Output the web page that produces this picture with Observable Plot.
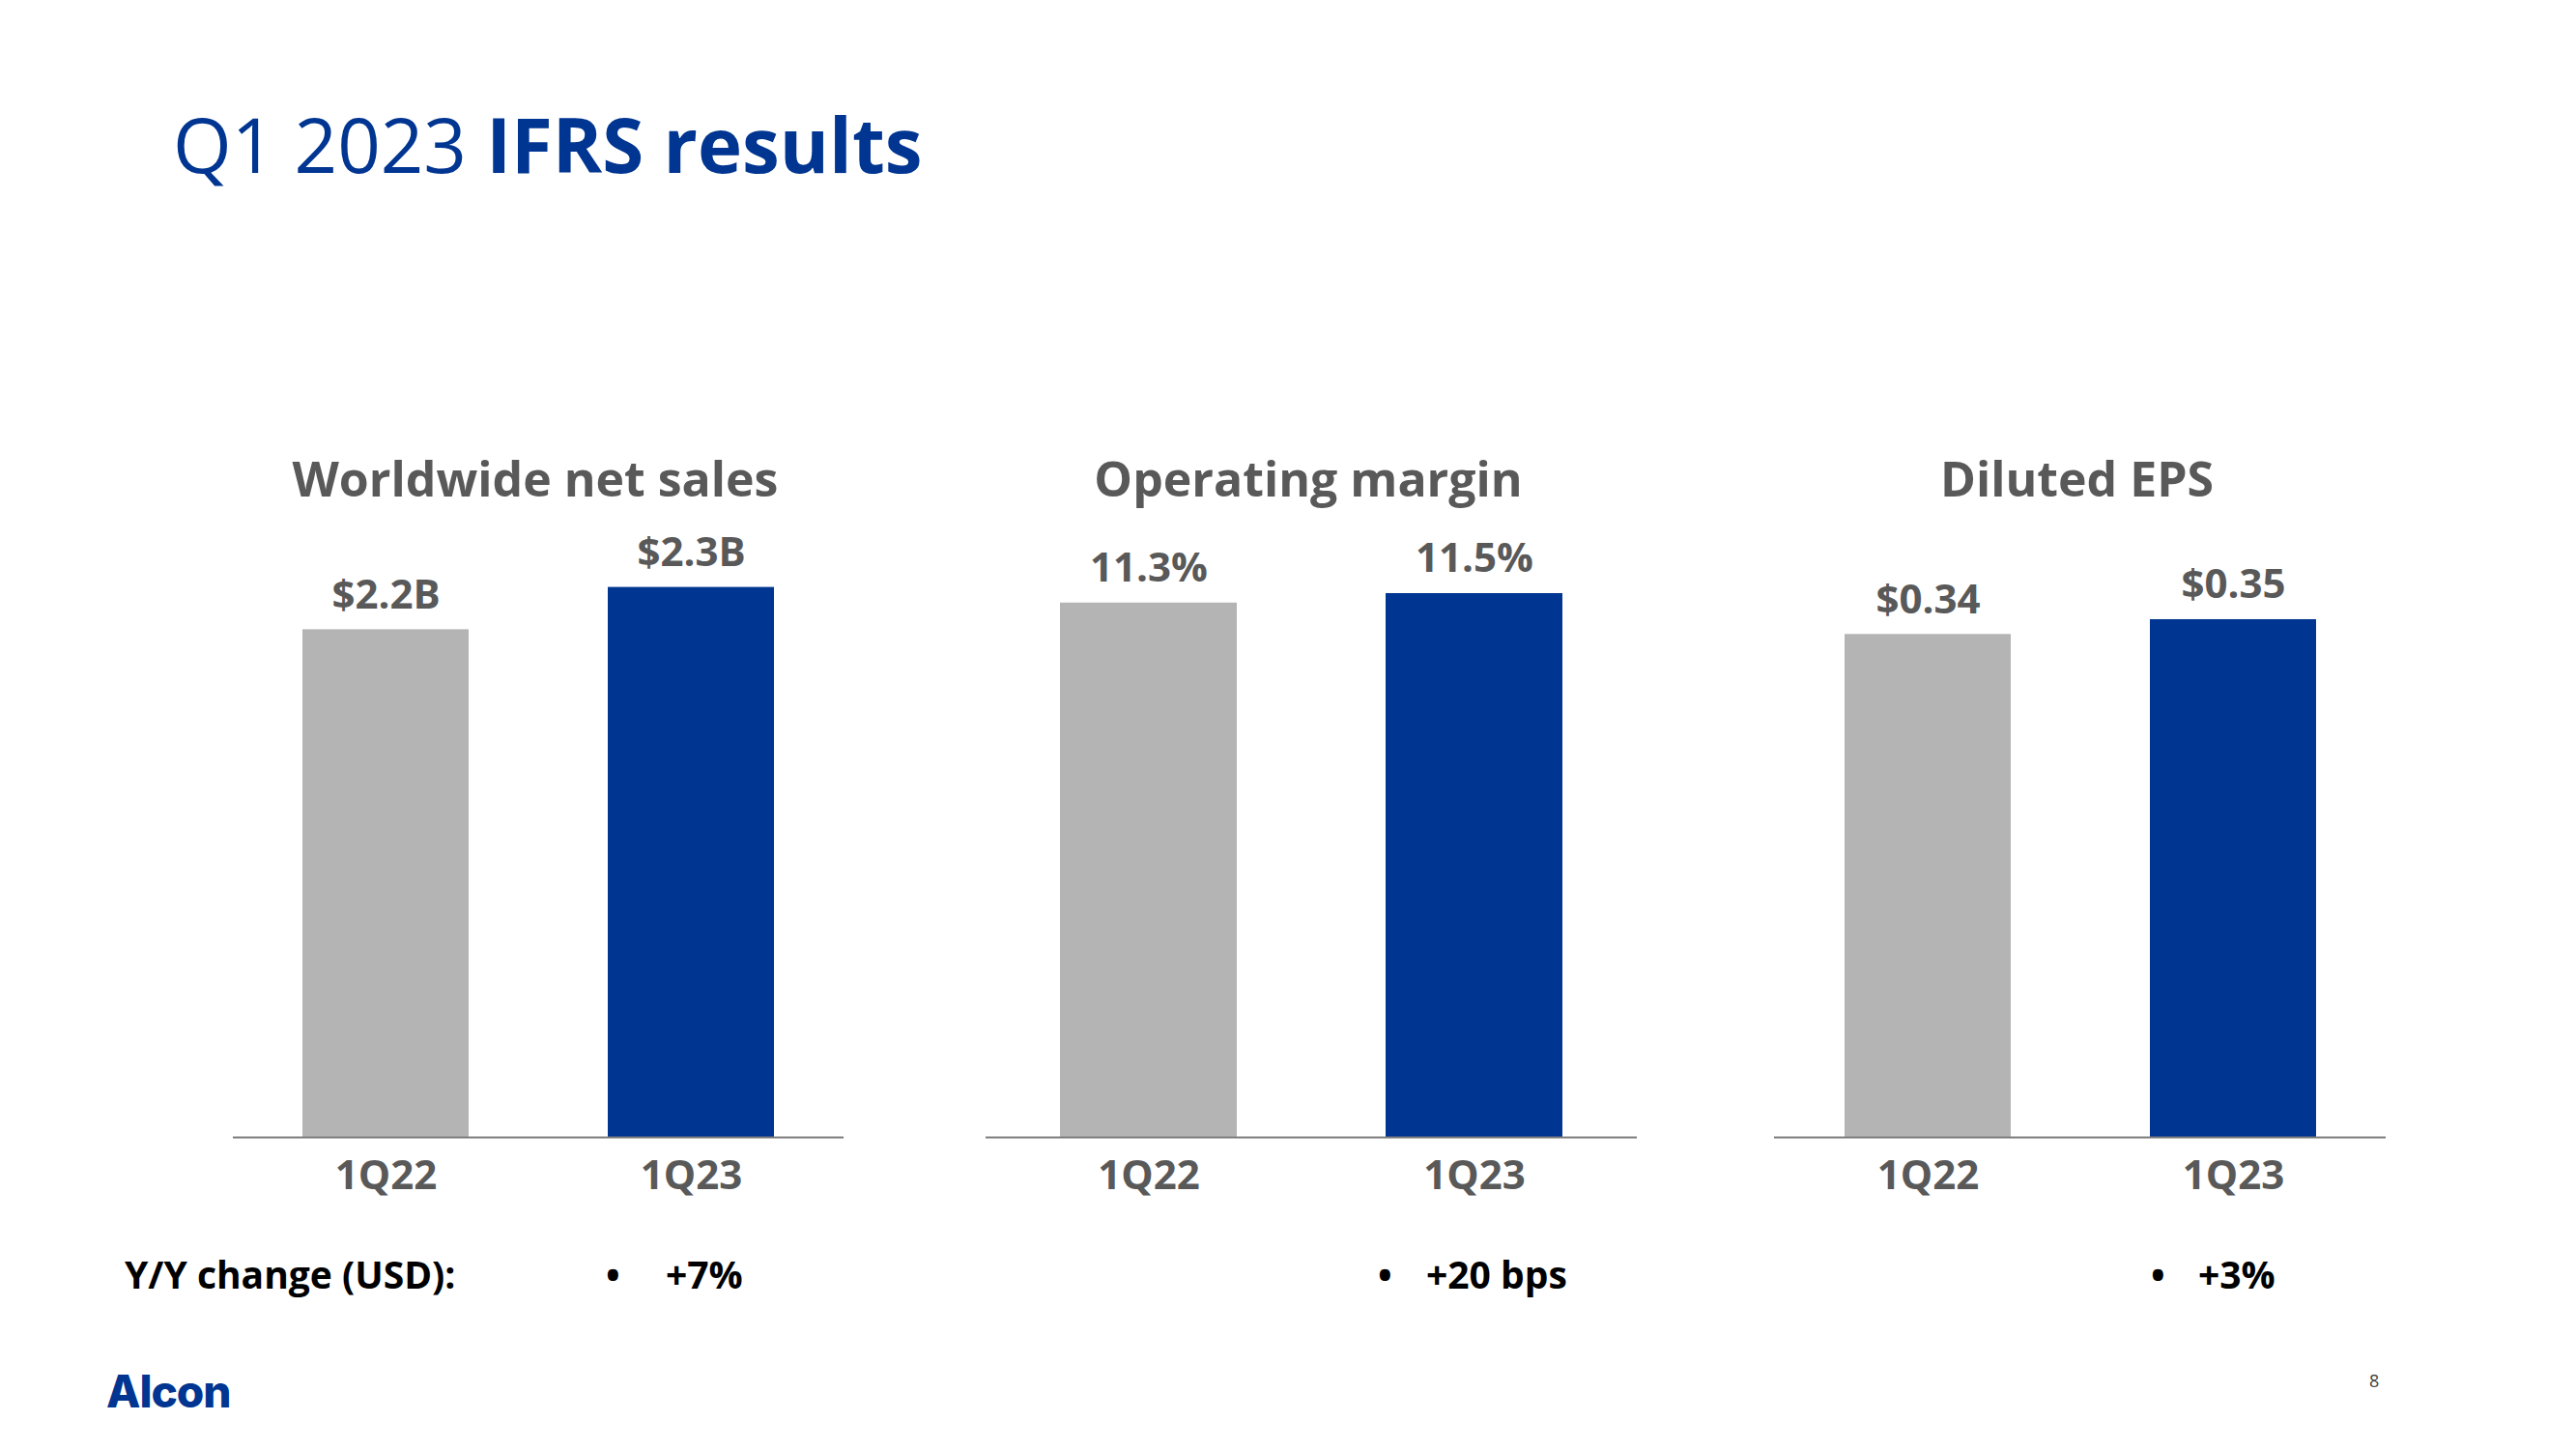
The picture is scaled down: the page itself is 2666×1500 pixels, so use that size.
<!DOCTYPE html>
<html>
<head>
<meta charset="utf-8">
<script src="https://cdn.jsdelivr.net/npm/d3@7"></script>
<script src="https://cdn.jsdelivr.net/npm/@observablehq/plot@0.6"></script>
<style>
  html, body { margin: 0; padding: 0; background: #fff; }
  #page { position: relative; width: 2666px; height: 1500px; background: #fff; font-family: "Open Sans", sans-serif; overflow: hidden; }
  .abs { position: absolute; white-space: nowrap; line-height: 1; }
  .panel svg { overflow: visible; }
</style>
</head>
<body>
<div id="page"></div>
<script>
// ---- data ----
const slideTitleRegular = "Q1 2023 ";
const slideTitleBold = "IFRS results";
const panelTitles = ["Worldwide net sales", "Operating margin", "Diluted EPS"];
const periods = ["1Q22", "1Q23"];
const salesValues = [2.16, 2.34];
const salesLabels = ["$2.2B", "$2.3B"];
const marginValues = [11.3, 11.5];
const marginLabels = ["11.3%", "11.5%"];
const epsValues = [0.34, 0.35];
const epsLabels = ["$0.34", "$0.35"];
const yoyLabel = "Y/Y change (USD):";
const yoyChanges = ["+7%", "+20 bps", "+3%"];
const logoText = "Alcon";
const pageNumber = "8";

// ---- layout / style ----
const GRAY = "#b4b4b4", BLUE = "#003591", TEXT = "#595959";
const panelLeft = [241, 1020, 1836];
const panelWidth = [632, 674, 633];
const yMax = [2.7, 13.42, 0.429];
const svgTop = 520, plotH = 657, marginBottom = 100;
const bulletX = [627, 1426, 2226];
const valueX = [689, 1476, 2275];

const page = document.getElementById("page");
function addText(txt, x, baseline, size, opts = {}) {
  const d = document.createElement("div");
  d.className = "abs";
  d.textContent = txt;
  d.style.left = x + "px";
  d.style.top = (baseline - 0.888 * size) + "px";
  d.style.fontSize = size + "px";
  d.style.fontWeight = opts.weight || "normal";
  d.style.color = opts.color || "#000";
  if (opts.family) d.style.fontFamily = opts.family;
  if (opts.width) { d.style.width = opts.width + "px"; d.style.textAlign = "center"; }
  if (opts.ls) d.style.letterSpacing = opts.ls;
  page.appendChild(d);
  return d;
}

// slide title
const t = addText("", 179, 179, 78, {color: BLUE});
const r = document.createElement("span"); r.textContent = slideTitleRegular; r.style.fontWeight = "normal";
const b = document.createElement("span"); b.textContent = slideTitleBold; b.style.fontWeight = "bold";
t.appendChild(r); t.appendChild(b);

const panels = [
  {values: salesValues, labels: salesLabels},
  {values: marginValues, labels: marginLabels},
  {values: epsValues, labels: epsLabels}
];

panels.forEach((p, i) => {
  addText(panelTitles[i], panelLeft[i] - 3, 514, 50, {weight: "bold", color: TEXT, width: panelWidth[i]});
  const data = periods.map((period, j) => ({period, value: p.values[j], label: p.labels[j]}));
  const chart = Plot.plot({
    width: panelWidth[i],
    height: plotH + marginBottom,
    marginTop: 0, marginBottom, marginLeft: 0, marginRight: 0,
    style: {fontFamily: "Open Sans", background: "transparent", overflow: "visible"},
    x: {domain: periods, paddingInner: 0.456, paddingOuter: 0.228, label: null},
    y: {domain: [0, yMax[i]], axis: null},
    color: {domain: periods, range: [GRAY, BLUE]},
    marks: [
      Plot.barY(data, {x: "period", y: "value", fill: "period"}),
      Plot.ruleY([0], {stroke: "#7f7f7f", strokeWidth: 2}),
      Plot.text(data, {x: "period", y: "value", text: "label", dy: -22, lineAnchor: "bottom",
        fontSize: 42, fontWeight: "bold", fill: TEXT}),
      Plot.axisX({tickSize: 0, tickPadding: 24, fontSize: 42, fontWeight: "bold", color: TEXT, label: null})
    ]
  });
  const wrap = document.createElement("div");
  wrap.className = "panel";
  wrap.style.position = "absolute";
  wrap.style.left = panelLeft[i] + "px";
  wrap.style.top = svgTop + "px";
  wrap.appendChild(chart);
  page.appendChild(wrap);

  addText("\u2022", bulletX[i], 1334, 39, {weight: "bold", color: "#000"});
  addText(yoyChanges[i], valueX[i], 1334, 39, {weight: "bold", color: "#000"});
});

addText(yoyLabel, 129, 1334, 39, {weight: "bold", color: "#000"});
addText(logoText, 110, 1458, 46, {weight: "800", color: BLUE, family: "Inter, Lato, sans-serif", ls: "-1px"});
addText(pageNumber, 2452, 1436, 18, {color: "#404040"});
</script>
</body>
</html>
